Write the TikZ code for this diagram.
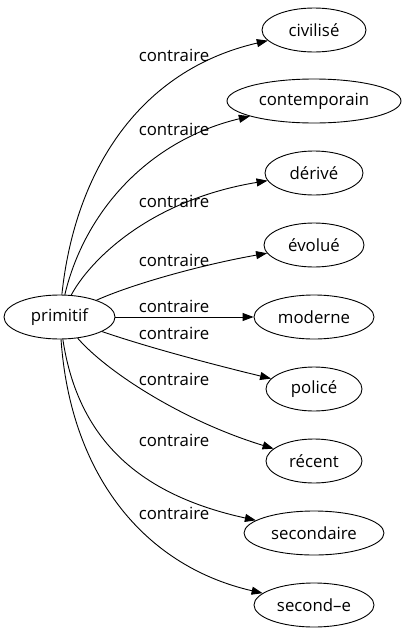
\documentclass[tikz,border=0pt]{standalone}
\usepackage{fontspec}
\setmainfont{Open Sans}
\usetikzlibrary{arrows.meta,shapes.geometric}
\tikzset{
  word/.style={ellipse, draw, line width=0.9pt, minimum height=44pt, inner sep=0pt, font=\fontsize{16.8}{20}\selectfont},
  rel/.style={font=\fontsize{16.8}{20}\selectfont, inner sep=0pt},
  link/.style={draw, line width=0.9pt, -{Triangle[length=11pt,width=8pt]}}
}
\begin{document}
\begin{tikzpicture}[x=1pt,y=-1pt]
\useasboundingbox (0,0) rectangle (404,635);
\node[word, minimum width=111pt] (p) at (59.5,317) {primitif};
\node[word, minimum width=104pt] (civ) at (314,30) {civilisé};
\node[word, minimum width=174pt] (con) at (314,101) {contemporain};
\node[word, minimum width=98pt] (der) at (314,173) {dérivé};
\node[word, minimum width=100pt] (evo) at (314,245) {évolué};
\node[word, minimum width=120pt] (mod) at (314,317) {moderne};
\node[word, minimum width=96pt] (pol) at (314,389) {policé};
\node[word, minimum width=96pt] (rec) at (314,461) {récent};
\node[word, minimum width=140pt] (sec) at (314,533) {secondaire};
\node[word, minimum width=120pt] (sde) at (314,605) {second–e};

\draw[link] (p) .. controls (75,170) and (140,70) .. (civ);
\draw[link] (p) .. controls (85,210) and (150,140) .. (con);
\draw[link] (p) .. controls (90,260) and (150,200) .. (der);
\draw[link] (p) .. controls (130,285) and (200,265) .. (evo);
\draw[link] (p) -- (mod);
\draw[link] (p) .. controls (150,348) and (215,365) .. (pol);
\draw[link] (p) .. controls (105,370) and (180,420) .. (rec);
\draw[link] (p) .. controls (78,440) and (140,495) .. (sec);
\draw[link] (p) .. controls (70,470) and (140,565) .. (sde);

\node[rel] (l1) at (174,55.7) {contraire};
\node[rel] (l2) at (174,129) {contraire};
\node[rel] (l3) at (174,201) {contraire};
\node[rel] (l4) at (174,260) {contraire};
\node[rel] (l5) at (174,306) {contraire};
\node[rel] (l6) at (174,333) {contraire};
\node[rel] (l7) at (174,379) {contraire};
\node[rel] (l8) at (174,440) {contraire};
\node[rel] (l9) at (174,513) {contraire};
\end{tikzpicture}
\end{document}
